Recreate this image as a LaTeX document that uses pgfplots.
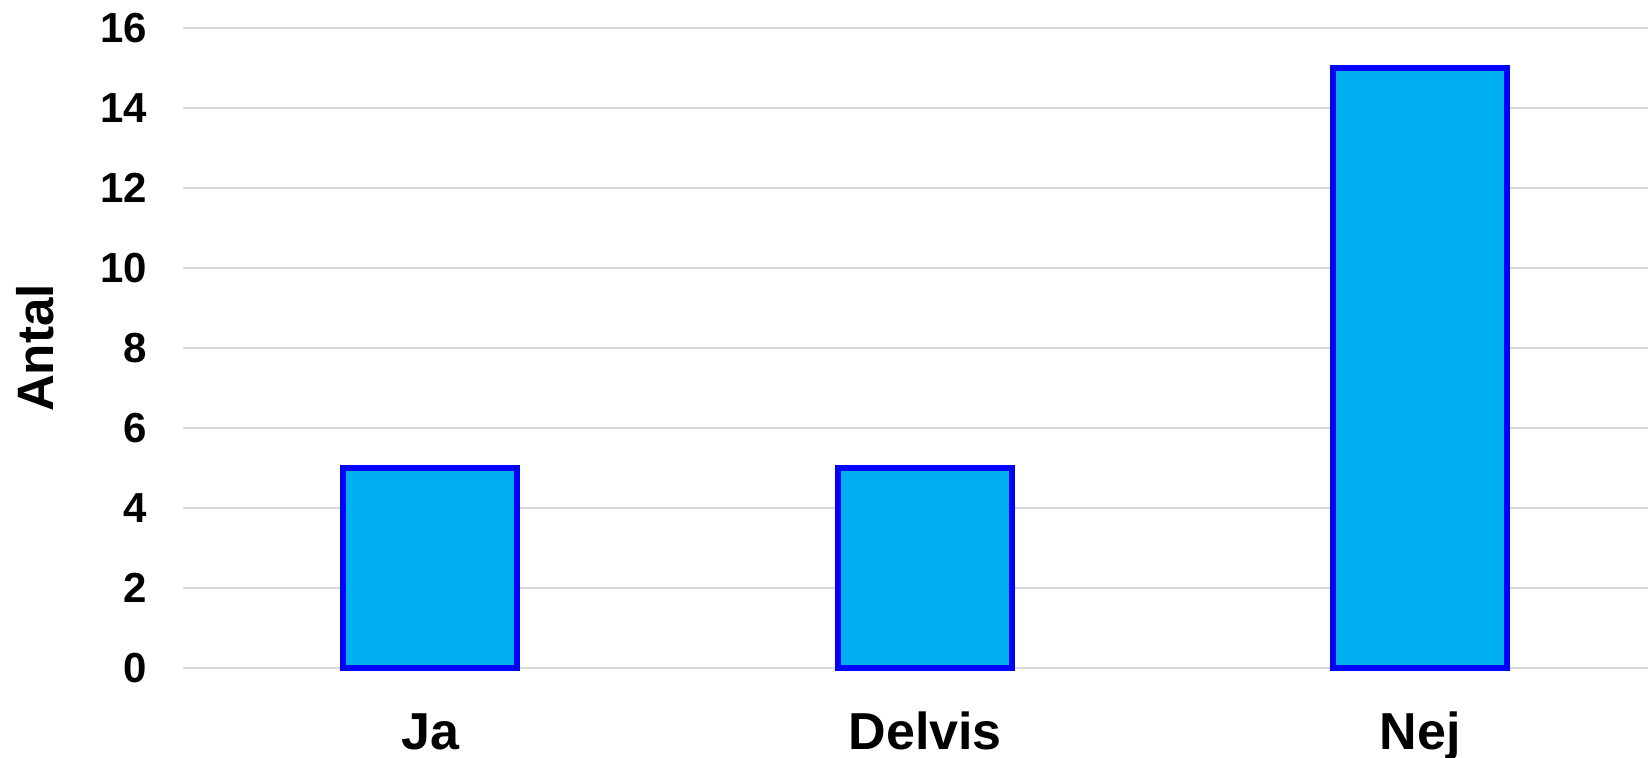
\documentclass[border=0pt]{standalone}
\usepackage{fontspec}
\setmainfont{Liberation Sans}
\usepackage{pgfplots}
\pgfplotsset{compat=1.18}
\usetikzlibrary{calc}
\definecolor{barfill}{HTML}{00B0F0}
\definecolor{barline}{HTML}{0000FF}
\definecolor{gridgray}{HTML}{D9D9D9}

\begin{document}
\begin{tikzpicture}
\begin{axis}[
    name=main,
    scale only axis,
    width=366.25pt,
    height=160pt,
    ymin=0, ymax=16,
    ytick={0,2,...,16},
    xmin=-0.499, xmax=2.46,
    xtick={0,1,2},
    xticklabels={Ja,Delvis,Nej},
    axis line style={draw=none},
    major tick length=0pt,
    ymajorgrids,
    grid style={gridgray, line width=0.6pt},
    /pgf/number format/assume math mode=true,
    yticklabel style={font=\fontsize{10.5}{12}\selectfont\bfseries, anchor=east, xshift=-5.5pt},
    xticklabel style={font=\fontsize{13}{15}\selectfont\bfseries, anchor=base, yshift=-20.5pt},
    ylabel={Antal},
    ylabel style={font=\fontsize{12.8}{14}\selectfont\bfseries, at={(axis description cs:-0.101,0.5)}, anchor=center},
    clip=false,
]
% Ja, Delvis, Nej
\addplot[ybar, bar width=43.5pt, fill=barfill, draw=barline, line width=1.5pt]
    coordinates {(0,5) (1,5) (2,15)};
\end{axis}
\pgfresetboundingbox
\path ($(main.south west)+(-45.75pt,-22.5pt)$) rectangle ($(main.north east)+(0pt,7pt)$);
\end{tikzpicture}
\end{document}
